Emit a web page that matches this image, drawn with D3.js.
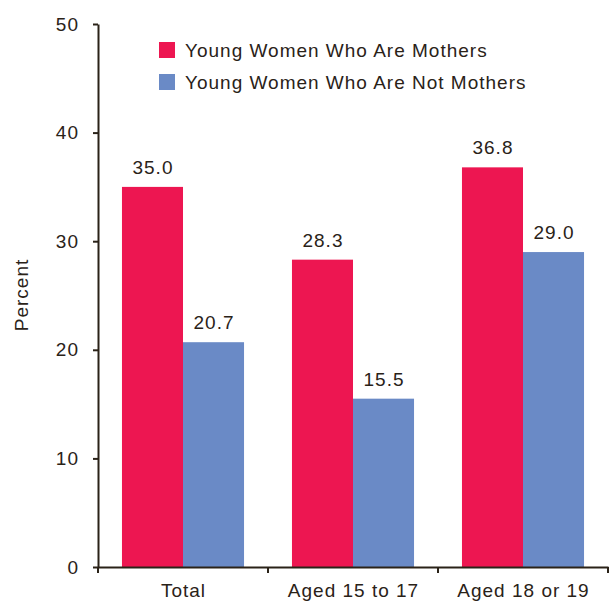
<!DOCTYPE html>
<html>
<head>
<meta charset="utf-8">
<script src="https://cdn.jsdelivr.net/npm/d3@7"></script>
<style>
body{margin:0;background:#fff;}
svg text{font-family:"Liberation Sans",Arial,sans-serif;fill:#2a2218;letter-spacing:1px;}
</style>
</head>
<body>
<svg class="chart" width="609" height="604"></svg>
<script>
var categories = ["Total", "Aged 15 to 17", "Aged 18 or 19"];
var seriesNames = ["Young Women Who Are Mothers", "Young Women Who Are Not Mothers"];
var mothers = [35.0, 28.3, 36.8];
var notMothers = [20.7, 15.5, 29.0];
var yTicks = [0, 10, 20, 30, 40, 50];
var colors = ["#ed1651", "#6a8ac6"];

var svg = d3.select("svg.chart");
var plotLeft = 98, plotRight = 608, plotTop = 24, plotBottom = 567;
var ink = "#2a2218";
var fs = 19;

var x0 = d3.scaleBand().domain(categories).range([plotLeft, plotRight])
    .paddingInner(0.282).paddingOuter(0.141);
var x1 = d3.scaleBand().domain(seriesNames).range([0, x0.bandwidth()]);
var y = d3.scaleLinear().domain([0, 50]).range([plotBottom, plotTop]);

var rows = categories.map(function(c, i){
    return {cat: c, vals: [mothers[i], notMothers[i]]};
});

// bars
var groups = svg.append("g").selectAll("g")
    .data(rows).enter().append("g")
    .attr("transform", function(d){ return "translate(" + x0(d.cat) + ",0)"; });

groups.selectAll("rect")
    .data(function(d){ return d.vals.map(function(v, j){ return {s: seriesNames[j], v: v, j: j}; }); })
    .enter().append("rect")
    .attr("x", function(d){ return x1(d.s); })
    .attr("y", function(d){ return y(d.v); })
    .attr("width", x1.bandwidth())
    .attr("height", function(d){ return y(0) - y(d.v); })
    .attr("fill", function(d){ return colors[d.j]; });

groups.selectAll("text.val")
    .data(function(d){ return d.vals.map(function(v, j){ return {s: seriesNames[j], v: v}; }); })
    .enter().append("text")
    .attr("class", "val")
    .attr("x", function(d){ return x1(d.s) + x1.bandwidth()/2 + 0.5; })
    .attr("y", function(d){ return y(d.v) - 13; })
    .attr("text-anchor", "middle")
    .attr("font-size", fs)
    .text(function(d){ return d.v.toFixed(1); });

// y axis
var yAxis = svg.append("g")
    .attr("transform", "translate(" + plotLeft + ",0)")
    .call(d3.axisLeft(y).tickValues(yTicks).tickSize(5).tickSizeOuter(0).tickPadding(14));
yAxis.select(".domain").attr("stroke", ink).attr("stroke-width", 2);
yAxis.selectAll(".tick line").attr("stroke", ink).attr("stroke-width", 2);
yAxis.selectAll(".tick text").attr("font-size", fs).attr("fill", ink)
    .style("font-family", "Liberation Sans, Arial, sans-serif");

// x axis
var xAxis = svg.append("g")
    .attr("transform", "translate(0," + plotBottom + ")")
    .call(d3.axisBottom(x0).tickSize(0).tickSizeOuter(0).tickPadding(17));
xAxis.select(".domain").attr("stroke", ink).attr("stroke-width", 2);
xAxis.selectAll(".tick text").attr("font-size", fs).attr("fill", ink)
    .attr("dx", "0.5")
    .style("font-family", "Liberation Sans, Arial, sans-serif");
var step = x0.step();
xAxis.selectAll("line.sep")
    .data(d3.range(categories.length + 1)).enter().append("line")
    .attr("class", "sep")
    .attr("x1", function(i){ return plotLeft + i*step; })
    .attr("x2", function(i){ return plotLeft + i*step; })
    .attr("y1", 0).attr("y2", 6)
    .attr("stroke", ink).attr("stroke-width", 2);

// y label
svg.append("text")
    .attr("transform", "translate(28,295) rotate(-90)")
    .attr("text-anchor", "middle")
    .attr("font-size", fs)
    .text("Percent");

// legend
var legend = svg.append("g").selectAll("g")
    .data(seriesNames).enter().append("g")
    .attr("transform", function(d, i){ return "translate(159," + (42 + i*32) + ")"; });
legend.append("rect").attr("width", 16).attr("height", 16)
    .attr("fill", function(d, i){ return colors[i]; });
legend.append("text").attr("x", 26).attr("y", 15)
    .attr("font-size", fs)
    .text(function(d){ return d; });
</script>
</body>
</html>
